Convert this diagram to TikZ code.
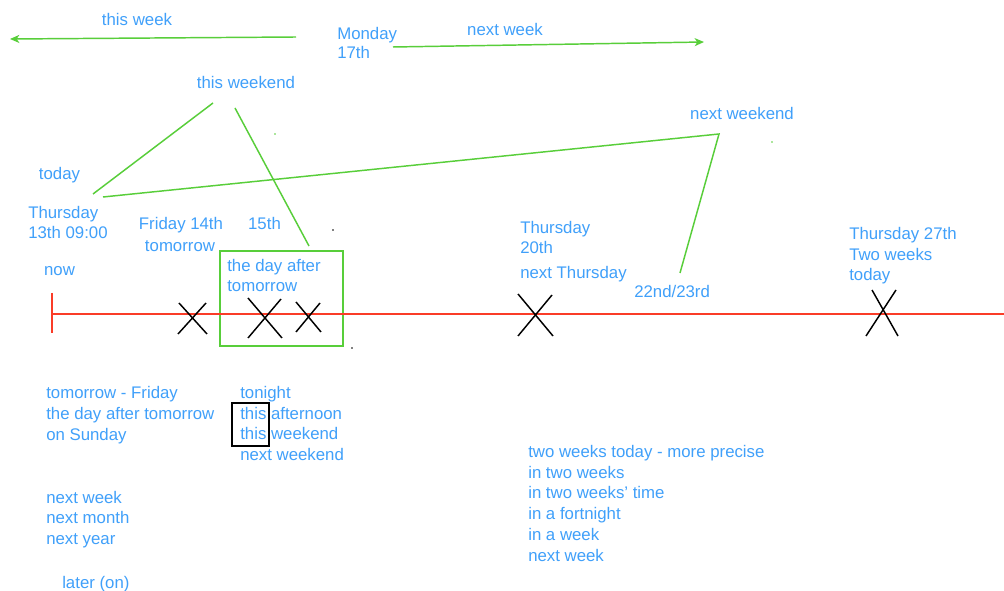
\documentclass[tikz,border=0pt]{standalone}
\usepackage{fontspec}
\setmainfont{Liberation Sans}
\usetikzlibrary{arrows.meta}
\definecolor{txtblue}{RGB}{64,160,250}
\definecolor{lgreen}{RGB}{88,206,58}
\definecolor{tred}{RGB}{250,60,40}
\tikzset{
  lbl/.style={text=txtblue, inner sep=0pt, yshift=-0.75pt, font=\fontsize{12.6pt}{15pt}\selectfont},
  lw/.style={lbl, anchor=base west},
  lc/.style={lbl, anchor=base},
  gline/.style={draw=lgreen, line width=1.1pt},
  garrow/.style={gline, -{Stealth[length=7pt,width=6pt,inset=2pt]}},
  cross/.style={draw=black, line width=1.1pt},
  speck/.style={fill=#1, draw=none}
}
\begin{document}
\begin{tikzpicture}[x=0.75pt,y=-0.75pt]
\useasboundingbox (0,0) rectangle (1004,591);
\fill[white] (0,0) rectangle (1004,591);

% top arrows
\node[lc] (thisweek) at (137,25) {this week};
\node[lw] (mon1) at (337,39) {Monday};
\node[lw] (mon2) at (337,58) {17th};
\node[lc] (nextweek) at (505,35) {next week};
\coordinate (twS) at (296,37);
\coordinate (twE) at (10,39);
\coordinate (nwS) at (393,47);
\coordinate (nwE) at (704,42);
\draw[garrow] (twS) -- (twE);
\draw[garrow] (nwS) -- (nwE);

% weekend labels and lines
\node[lc] (thisweekend) at (246,88) {this weekend};
\node[lc] (nextweekend) at (742,119) {next weekend};
\coordinate (weA) at (213,103);
\coordinate (weB) at (93,194);
\coordinate (weC) at (235,108);
\coordinate (weD) at (309,246);
\coordinate (nwkA) at (103,197);
\coordinate (nwkB) at (719,134);
\coordinate (nwkC) at (680,273);
\draw[gline] (weA) -- (weB);
\draw[gline] (weC) -- (weD);
\draw[gline] (nwkA) -- (nwkB) -- (nwkC);

% specks
\fill[speck=lgreen] (275,134) circle (0.8);
\fill[speck=lgreen] (772,142) circle (0.8);
\fill[speck=black] (333,230) circle (0.9);
\fill[speck=black] (352,348) circle (0.9);

% labels above timeline
\node[lc] (today) at (59.5,179) {today};
\node[lw] (thu1) at (28,218) {Thursday};
\node[lw] (thu2) at (28,238) {13th 09:00};
\node[lc] (fri) at (181,229) {Friday 14th};
\node[lc] (tomorrow) at (180,251) {tomorrow};
\node[lc] (fifteenth) at (264.5,229) {15th};
\node[lc] (now) at (59.5,275) {now};
\node[lw] (dayafter1) at (227,271) {the day after};
\node[lw] (dayafter2) at (227,291) {tomorrow};
\node[draw=lgreen, line width=1.1pt, minimum width=123*0.75pt, minimum height=95*0.75pt, inner sep=0pt] (gbox) at (281.5,298.5) {};
\node[lw] (t20a) at (520,233) {Thursday};
\node[lw] (t20b) at (520,253) {20th};
\node[lw] (nextthu) at (520,278) {next Thursday};
\node[lw] (wk2223) at (634,297) {22nd/23rd};
\node[lw] (t27a) at (849,239) {Thursday 27th};
\node[lw] (t27b) at (849,259.5) {Two weeks};
\node[lw] (t27c) at (849,280) {today};

% timeline
\coordinate (tlS) at (52,314);
\coordinate (tlE) at (1004,314);
\coordinate (tkT) at (52,293);
\coordinate (tkB) at (52,333);
\draw[draw=tred, line width=1.1pt] (tlS) -- (tlE);
\draw[draw=tred, line width=1.1pt] (tkT) -- (tkB);

% crosses
\draw[cross] (179,303) -- (207,334) (178,334) -- (206,303);
\draw[cross] (248,298) -- (282,338) (248,338) -- (281,299);
\draw[cross] (296,302) -- (321,332) (296,332) -- (320,303);
\draw[cross] (518,294) -- (553,336) (518,336) -- (552,295);
\draw[cross] (872,290) -- (898,336) (866,336) -- (896,290);

% left lists
\node[lw] (l1) at (46,398) {tomorrow - Friday};
\node[lw] (l2) at (46,419) {the day after tomorrow};
\node[lw] (l3) at (46,439.5) {on Sunday};
\node[lw] (m1) at (240,398) {tonight};
\node[lw] (m2) at (240,418.5) {this afternoon};
\node[lw] (m3) at (240,439) {this weekend};
\node[lw] (m4) at (240,460) {next weekend};
\node[draw=black, line width=1pt, minimum width=37*0.75pt, minimum height=43*0.75pt, inner sep=0pt] (thisbox) at (250.5,424.5) {};
\node[lw] (n1) at (46,503) {next week};
\node[lw] (n2) at (46,523) {next month};
\node[lw] (n3) at (46,544) {next year};
\node[lw] (later) at (62,588) {later (on)};

% right list
\node[lw] (r1) at (528,457) {two weeks today - more precise};
\node[lw] (r2) at (528,477.5) {in two weeks};
\node[lw] (r3) at (528,498) {in two weeks' time};
\node[lw] (r4) at (528,519) {in a fortnight};
\node[lw] (r5) at (528,540) {in a week};
\node[lw] (r6) at (528,560.5) {next week};
\end{tikzpicture}
\end{document}
